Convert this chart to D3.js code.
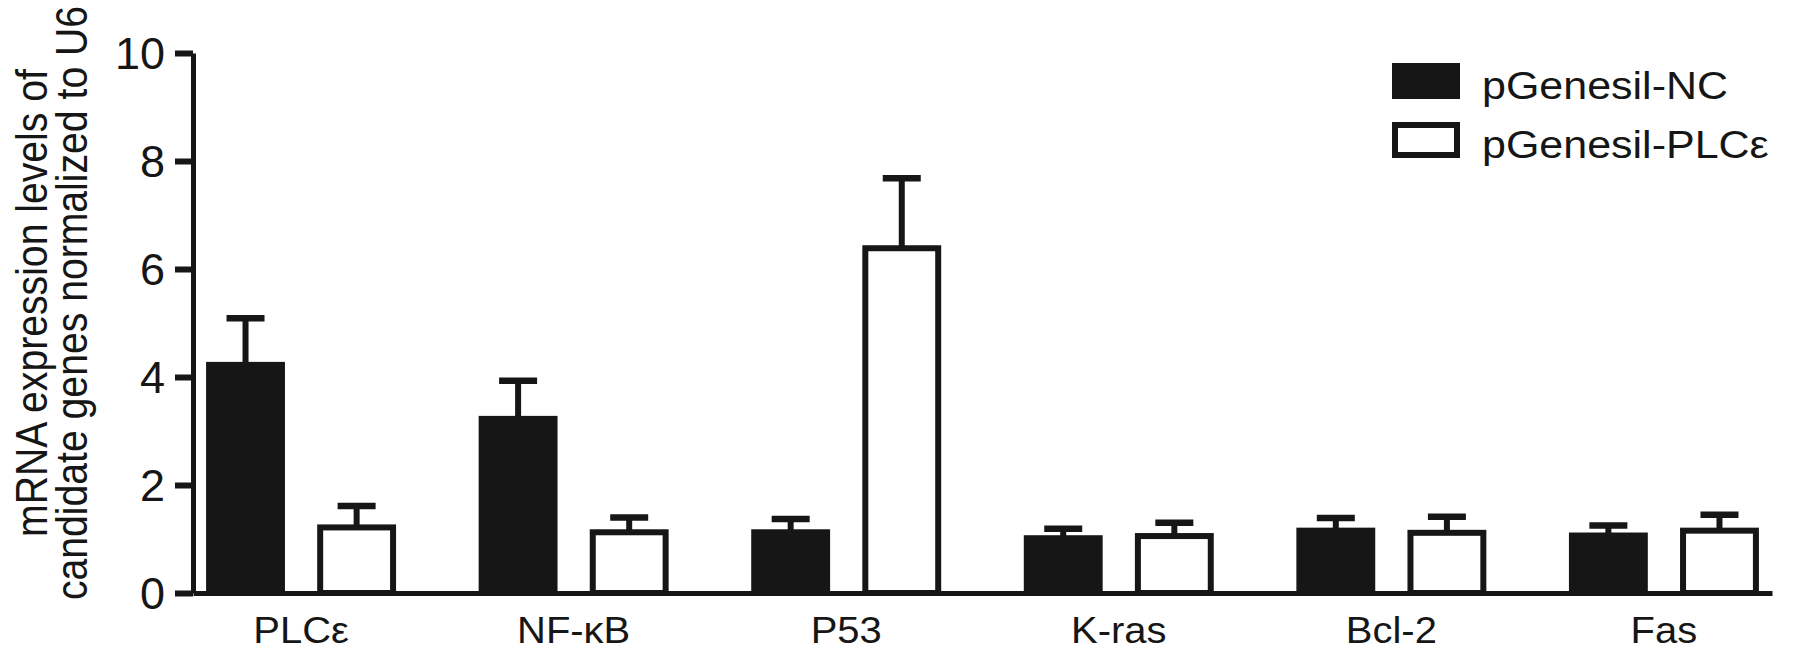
<!DOCTYPE html>
<html>
<head>
<meta charset="utf-8">
<script src="https://cdn.jsdelivr.net/npm/d3@7"></script>
<style>
  body { margin: 0; background: #fff; }
  svg text { font-family: "Liberation Sans", Arial, Helvetica, sans-serif; fill: #161616; }
</style>
</head>
<body>
<div id="chart"></div>
<script>
// qPCR bar chart — mean expression with upper SEM bars, two groups per gene
const genes = ["PLC\u03b5", "NF-\u03baB", "P53", "K-ras", "Bcl-2", "Fas"];
const seriesNames = ["pGenesil-NC", "pGenesil-PLC\u03b5"];
const ncMeans = [4.28, 3.28, 1.18, 1.07, 1.21, 1.12];
const ncErrors = [0.81, 0.65, 0.19, 0.12, 0.18, 0.13];
const plcMeans = [1.27, 1.18, 6.44, 1.11, 1.17, 1.21];
const plcErrors = [0.34, 0.22, 1.24, 0.19, 0.24, 0.24];
const yTicks = [0, 2, 4, 6, 8, 10];

const W = 1795, H = 656;
const ink = "#161616";
const squeeze = 0.89; // the original figure is slightly squashed vertically

const svg = d3.select("#chart").append("svg")
  .attr("width", W).attr("height", H);

const x0 = d3.scaleBand()
  .domain(genes)
  .range([193, 1772])
  .paddingInner(0.303)
  .paddingOuter(0.048);

const x1 = d3.scaleBand()
  .domain(seriesNames)
  .range([0, x0.bandwidth()])
  .paddingInner(0.29);

const y = d3.scaleLinear().domain([0, 10]).range([593, 53]);

// Bars
const rows = genes.map((g, i) => [
  { gene: g, series: seriesNames[0], mean: ncMeans[i], err: ncErrors[i], fill: ink },
  { gene: g, series: seriesNames[1], mean: plcMeans[i], err: plcErrors[i], fill: "#fff" }
]).flat();

const sw = 6;
const bars = svg.append("g");

// error bars first so the bar covers the stem base
rows.forEach(d => {
  const cx = x0(d.gene) + x1(d.series) + x1.bandwidth() / 2;
  const top = y(d.mean + d.err);
  bars.append("line")
    .attr("x1", cx).attr("x2", cx)
    .attr("y1", y(d.mean) + 2).attr("y2", top)
    .attr("stroke", ink).attr("stroke-width", 6);
  bars.append("line")
    .attr("x1", cx - 19).attr("x2", cx + 19)
    .attr("y1", top).attr("y2", top)
    .attr("stroke", ink).attr("stroke-width", 6.5);
});

rows.forEach(d => {
  bars.append("rect")
    .attr("x", x0(d.gene) + x1(d.series) + sw / 2)
    .attr("y", y(d.mean) + sw / 2)
    .attr("width", x1.bandwidth() - sw)
    .attr("height", y(0) - y(d.mean) - sw / 2)
    .attr("fill", d.fill)
    .attr("stroke", ink)
    .attr("stroke-width", sw);
});

// Y axis
const yAxis = svg.append("g")
  .attr("transform", "translate(193,0)")
  .call(d3.axisLeft(y).tickValues(yTicks).tickSize(18).tickSizeOuter(0).tickPadding(10));
yAxis.select(".domain").attr("stroke", ink).attr("stroke-width", 5);
yAxis.selectAll(".tick line").attr("stroke", ink).attr("stroke-width", 6);
yAxis.selectAll(".tick text")
  .attr("font-size", 45)
  .attr("fill", ink)
  .attr("dy", "0.35em");

// X axis
const xAxis = svg.append("g")
  .attr("transform", `translate(0,${y(0)})`)
  .call(d3.axisBottom(x0).tickSize(0).tickSizeOuter(0).tickPadding(0));
xAxis.select(".domain").attr("stroke", ink).attr("stroke-width", 5);
xAxis.selectAll(".tick text")
  .attr("font-size", 40)
  .attr("fill", ink)
  .attr("y", 0)
  .attr("dy", 0)
  .attr("transform", "translate(0,50) scale(1,0.94)");

// Y axis title
const yTitle = svg.append("text")
  .attr("transform", `translate(0,303) scale(1,${squeeze}) rotate(-90)`)
  .attr("text-anchor", "middle")
  .attr("font-size", 44);
yTitle.append("tspan").attr("x", 0).attr("y", 47).text("mRNA expression levels of");
yTitle.append("tspan").attr("x", 0).attr("y", 87).text("candidate genes normalized to U6");

// Legend
const legend = svg.append("g");
seriesNames.forEach((name, i) => {
  const ly = 63 + i * 59;
  legend.append("rect")
    .attr("x", 1392 + sw / 2).attr("y", ly + sw / 2)
    .attr("width", 68 - sw).attr("height", 36 - sw)
    .attr("fill", i === 0 ? ink : "#fff")
    .attr("stroke", ink).attr("stroke-width", sw);
  legend.append("text")
    .attr("transform", `translate(1482,${ly + 36}) scale(1,${squeeze})`)
    .attr("font-size", 43)
    .text(name);
});
</script>
</body>
</html>
